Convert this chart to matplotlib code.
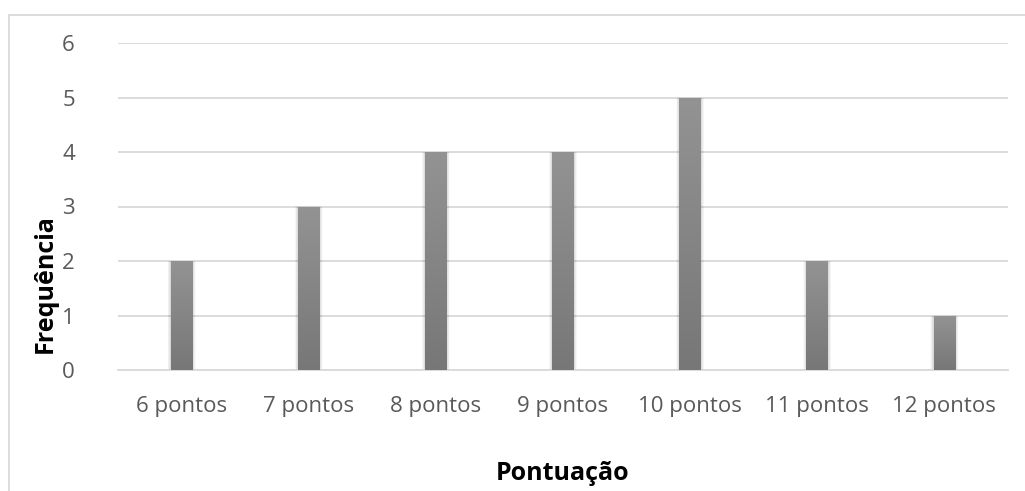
import matplotlib.pyplot as plt
import numpy as np
from matplotlib.lines import Line2D
from matplotlib.colors import LinearSegmentedColormap

categorias = ['6 pontos', '7 pontos', '8 pontos', '9 pontos', '10 pontos', '11 pontos', '12 pontos']
frequencia = [2, 3, 4, 4, 5, 2, 1]

plt.rcParams['font.family'] = ['Open Sans', 'DejaVu Sans']

fig = plt.figure(figsize=(10.25, 4.91), dpi=100)
ax = fig.add_axes([118 / 1025, 1 - 370 / 491, (1008 - 118) / 1025, (370 - 43) / 491])

x = np.arange(len(categorias))
largura = 0.17

# soft shadow around the bars
for k in np.linspace(0.005, 0.05, 8):
    ax.bar(x, np.array(frequencia) + k * 0.4, width=largura + k, bottom=-k * 0.4,
           color='#000000', alpha=0.018, linewidth=0, zorder=2)

bars = ax.bar(x, frequencia, width=largura, color='#888888', linewidth=0, zorder=3)

# vertical gradient inside each bar
grad = np.linspace(0, 1, 256).reshape(-1, 1)
cmap = LinearSegmentedColormap.from_list('cinza', ['#777777', '#939393'])
for b in bars:
    x0, w, h = b.get_x(), b.get_width(), b.get_height()
    im = ax.imshow(grad, extent=(x0, x0 + w, 0, h), origin='lower', aspect='auto',
                   cmap=cmap, zorder=4)
    im.set_clip_path(b)

ax.set_xlim(-0.5, len(categorias) - 0.5)
ax.set_ylim(0, 6)
ax.set_yticks(range(7))
ax.set_xticks(x)
ax.set_xticklabels(categorias)
ax.yaxis.grid(True, color='#d9d9d9', linewidth=1.3, zorder=0)
ax.set_axisbelow(True)
for s in ['top', 'right', 'left']:
    ax.spines[s].set_visible(False)
ax.spines['bottom'].set_color('#d9d9d9')
ax.spines['bottom'].set_linewidth(1.3)
ax.tick_params(axis='both', length=0, labelsize=16, colors='#595959')
ax.tick_params(axis='y', pad=31)
ax.tick_params(axis='x', pad=19)

fig.text(563 / 1025, 1 - 473 / 491, 'Pontuação', ha='center', va='center',
         fontsize=18, fontweight='bold', color='#000000')
fig.text(45 / 1025, 1 - 284 / 491, 'Frequência', ha='center', va='center', rotation=90,
         fontsize=18, fontweight='bold', color='#000000')

# chart frame
fig.add_artist(Line2D([8.5 / 1025, 8.5 / 1025], [0, 1 - 14.5 / 491], color='#d9d9d9', linewidth=1.3))
fig.add_artist(Line2D([8.5 / 1025, 1], [1 - 14.5 / 491, 1 - 14.5 / 491], color='#d9d9d9', linewidth=1.3))

fig.savefig('out.png', dpi=100)
